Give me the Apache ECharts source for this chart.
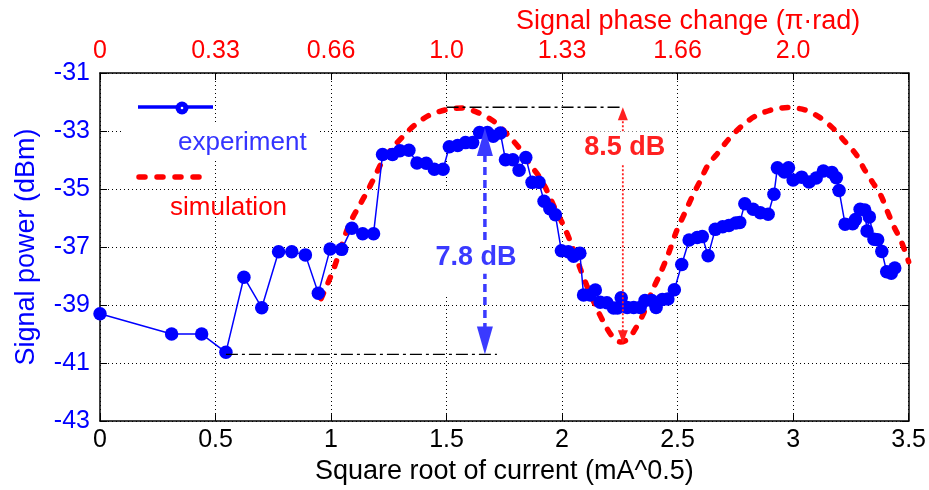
<!DOCTYPE html>
<html>
<head>
<meta charset="utf-8">
<script src="https://cdn.jsdelivr.net/npm/echarts@6/dist/echarts.min.js"></script>
<style>
html,body{margin:0;padding:0;background:#fff;}
#main{width:929px;height:490px;}
</style>
</head>
<body>
<div id="main"></div>
<script>
// ---- data ----
const expX = [0, 0.31, 0.44, 0.545, 0.623, 0.70, 0.773, 0.83, 0.889, 0.945, 0.996, 1.046, 1.09, 1.137, 1.184,
  1.223, 1.266, 1.298, 1.337, 1.372, 1.412, 1.447, 1.485, 1.512, 1.548, 1.582, 1.613, 1.643, 1.677, 1.702, 1.733,
  1.755, 1.787, 1.814, 1.843, 1.87, 1.9, 1.922, 1.947, 1.971, 1.997, 2.027, 2.05, 2.077, 2.093, 2.122, 2.144,
  2.165, 2.194, 2.223, 2.24, 2.256, 2.282, 2.31, 2.338, 2.359, 2.388, 2.407, 2.434, 2.458, 2.486, 2.518, 2.55,
  2.585, 2.607, 2.632, 2.663, 2.695, 2.722, 2.752, 2.769, 2.791, 2.827, 2.858, 2.892, 2.917, 2.932, 2.962, 2.98,
  3.0, 3.037, 3.069, 3.1, 3.131, 3.168, 3.187, 3.199, 3.225, 3.258, 3.27, 3.29, 3.31, 3.32, 3.33, 3.35, 3.366,
  3.384, 3.405, 3.425, 3.44];
const expY = [-39.3, -40.0, -40.0, -40.63, -38.04, -39.09, -37.16, -37.16, -37.27, -38.59, -37.07, -37.08, -36.35, -36.54, -36.54,
  -33.81, -33.81, -33.68, -33.66, -34.1, -34.11, -34.32, -34.32, -33.54, -33.5, -33.4, -33.4, -33.05, -33.05, -33.18, -33.07,
  -33.99, -33.99, -34.35, -33.91, -34.77, -34.77, -35.42, -35.68, -35.89, -37.13, -37.16, -37.32, -37.21, -38.65, -38.65, -38.48,
  -38.9, -38.92, -39.1, -39.1, -38.75, -39.08, -39.08, -39.08, -38.84, -38.84, -39.08, -38.81, -38.79, -38.47, -37.6, -36.76,
  -36.67, -36.64, -37.3, -36.39, -36.3, -36.26, -36.17, -36.15, -35.51, -35.7, -35.82, -35.87, -35.18, -34.27, -34.41, -34.27,
  -34.69, -34.59, -34.76, -34.62, -34.38, -34.43, -34.61, -35.05, -36.21, -36.2, -36.05, -35.7, -35.72, -36.45, -35.96, -36.73, -36.75,
  -37.15, -37.85, -37.9, -37.72];

const simX = [0.957, 0.985, 1.014, 1.043, 1.068, 1.09, 1.122, 1.154, 1.187, 1.223, 1.266, 1.312, 1.36, 1.424, 1.496,
  1.568, 1.64, 1.705, 1.77, 1.82, 1.856, 1.899, 1.928, 1.971, 2.007, 2.043, 2.079, 2.107, 2.144, 2.187, 2.22, 2.252,
  2.28, 2.309, 2.352, 2.388, 2.424, 2.46, 2.496, 2.532, 2.561, 2.597, 2.633, 2.669, 2.719, 2.776, 2.834, 2.906, 2.978,
  3.05, 3.115, 3.172, 3.223, 3.273, 3.309, 3.345, 3.381, 3.407, 3.438, 3.467, 3.5];
const simY = [-38.78, -38.27, -37.7, -37.01, -36.44, -36.04, -35.58, -35.12, -34.61, -34.04, -33.58, -33.18, -32.81, -32.46, -32.27,
  -32.21, -32.38, -32.67, -33.18, -33.64, -34.1, -34.55, -34.95, -35.7, -36.27, -36.95, -37.75, -38.33, -39.01, -39.7, -40.1, -40.27,
  -40.2, -39.93, -39.3, -38.55, -37.93, -37.24, -36.44, -35.81, -35.3, -34.73, -34.15, -33.81, -33.3, -32.84, -32.5, -32.27, -32.19,
  -32.27, -32.53, -32.9, -33.35, -33.81, -34.33, -34.78, -35.24, -35.75, -36.32, -36.78, -37.5];

const topTickLabels = ['0', '0.33', '0.66', '1.0', '1.33', '1.66', '2.0', ''];

// annotations (data units)
const lowerRef = [0.545, 1.718, -40.7];   // x0, x1, y
const upperRef = [1.5, 2.263, -32.18];    // x0, x1, y
const expArrow = [1.666, -32.9, -40.7];   // x, top tip, bottom tip
const simArrow = [2.263, -32.18, -40.32]; // x, top tip, bottom tip
const expGapLabel = '7.8 dB';
const simGapLabel = '8.5 dB';

const FONT = 'Liberation Sans, Arial, Helvetica, sans-serif';
const BLUE = '#0000ff';
const RED = '#ff0000';

const chart = echarts.init(document.getElementById('main'), null, {renderer: 'canvas'});

const gridDots = {show: true, lineStyle: {type: [1, 3], color: '#000', width: 1}};
const frameLine = {show: true, onZero: false, lineStyle: {color: '#000', width: 1.5}};

const option = {
  animation: false,
  backgroundColor: '#fff',
  textStyle: {fontFamily: FONT},
  title: {
    text: 'Signal phase change (π·rad)',
    left: 511, top: 3,
    textStyle: {color: RED, fontSize: 27, fontWeight: 'normal', fontFamily: FONT}
  },
  grid: {left: 100, right: 17, top: 73, bottom: 67, containLabel: false},
  xAxis: [{
    type: 'value', position: 'bottom', min: 0, max: 3.5, interval: 0.5,
    axisLine: frameLine,
    axisTick: {inside: true, length: 7, lineStyle: {color: '#000'}},
    axisLabel: {color: '#000', fontSize: 25, margin: 7, fontFamily: FONT},
    splitLine: gridDots,
    name: 'Square root of current (mA^0.5)', nameLocation: 'middle', nameGap: 30,
    nameTextStyle: {color: '#000', fontSize: 27, fontFamily: FONT}
  }, {
    type: 'value', position: 'top', min: 0, max: 3.5, interval: 0.5,
    axisLine: frameLine,
    axisTick: {inside: true, length: 7, lineStyle: {color: '#000'}},
    axisLabel: {color: RED, fontSize: 25, margin: 9, fontFamily: FONT,
      formatter: v => topTickLabels[Math.round(v / 0.5)] || ''},
    splitLine: {show: false}
  }],
  yAxis: [{
    type: 'value', position: 'left', min: -43, max: -31, interval: 2,
    axisLine: frameLine,
    axisTick: {inside: true, length: 7, lineStyle: {color: '#000'}},
    axisLabel: {color: BLUE, fontSize: 25, margin: 10, fontFamily: FONT},
    splitLine: gridDots,
    name: 'Signal power (dBm)', nameLocation: 'middle', nameGap: 60,
    nameTextStyle: {color: BLUE, fontSize: 27, fontFamily: FONT}
  }, {
    type: 'value', position: 'right', min: -43, max: -31, interval: 2,
    axisLine: frameLine,
    axisTick: {inside: true, length: 7, lineStyle: {color: '#000'}},
    axisLabel: {show: false},
    splitLine: {show: false}
  }],
  series: [{
    name: 'simulation', type: 'line', xAxisIndex: 0, yAxisIndex: 0,
    data: simX.map((x, i) => [x, simY[i]]),
    symbol: 'none', smooth: 0.3, z: 2,
    lineStyle: {color: RED, width: 5.5, type: [6, 11.5], cap: 'round'}
  }, {
    name: 'experiment', type: 'line', xAxisIndex: 0, yAxisIndex: 0,
    data: expX.map((x, i) => [x, expY[i]]),
    symbol: 'circle', symbolSize: 13.5, z: 3,
    itemStyle: {color: BLUE},
    lineStyle: {color: BLUE, width: 1.5}
  }]
};
chart.setOption(option);

const P = (x, y) => chart.convertToPixel({xAxisIndex: 0, yAxisIndex: 0}, [x, y]);

const g = [];
// legend (white box covering grid under 'experiment')
g.push({type: 'rect', z: 1, shape: {x: 123, y: 122, width: 197, height: 38}, style: {fill: '#fff'}});
g.push({type: 'line', z: 4, shape: {x1: 138, y1: 107, x2: 213, y2: 107}, style: {stroke: BLUE, lineWidth: 3.5}});
g.push({type: 'circle', z: 4, shape: {cx: 182, cy: 108, r: 6.5}, style: {fill: BLUE}});
g.push({type: 'circle', z: 5, shape: {cx: 182, cy: 108, r: 1.3}, style: {fill: '#fff'}});
g.push({type: 'text', z: 4, x: 178, y: 143, style: {text: 'experiment', fill: '#3434ff', fontSize: 26, fontFamily: FONT, align: 'left', verticalAlign: 'middle'}});
g.push({type: 'line', z: 4, shape: {x1: 139, y1: 177, x2: 209, y2: 177}, style: {stroke: RED, lineWidth: 5.5, lineDash: [6, 12], lineCap: 'round'}});
g.push({type: 'text', z: 4, x: 170, y: 208, style: {text: 'simulation', fill: RED, fontSize: 26, fontFamily: FONT, align: 'left', verticalAlign: 'middle'}});

// reference dash-dot lines
const l0 = P(lowerRef[0], lowerRef[2]), l1 = P(lowerRef[1], lowerRef[2]);
g.push({type: 'line', z: 4, shape: {x1: l0[0], y1: l0[1], x2: l1[0], y2: l1[1]}, style: {stroke: '#000', lineWidth: 1.4, lineDash: [12, 4, 3, 4]}});
const u0 = P(upperRef[0], upperRef[2]), u1 = P(upperRef[1], upperRef[2]);
g.push({type: 'line', z: 4, shape: {x1: u0[0], y1: u0[1], x2: u1[0], y2: u1[1]}, style: {stroke: '#000', lineWidth: 1.4, lineDash: [12, 4, 3, 4]}});

// blue double arrow (experiment contrast)
const bt = P(expArrow[0], expArrow[1]), bb = P(expArrow[0], expArrow[2]);
const BA = '#3a3aff';
g.push({type: 'rect', z: 1, shape: {x: bt[0] - 76, y: 192, width: 130, height: 103}, style: {fill: '#fff'}});
g.push({type: 'line', z: 5, shape: {x1: bt[0], y1: bt[1] + 26, x2: bb[0], y2: bb[1] - 26}, style: {stroke: BA, lineWidth: 3.5, lineDash: [8, 5]}});
g.push({type: 'polygon', z: 5, shape: {points: [[bt[0], bt[1]], [bt[0] - 8, bt[1] + 28], [bt[0] + 8, bt[1] + 28]]}, style: {fill: BA}});
g.push({type: 'polygon', z: 5, shape: {points: [[bb[0], bb[1]], [bb[0] - 8, bb[1] - 28], [bb[0] + 8, bb[1] - 28]]}, style: {fill: BA}});
g.push({type: 'text', z: 6, x: bt[0] - 9, y: (bt[1] + bb[1]) / 2 + 16, style: {text: expGapLabel, fill: BA, fontSize: 27, fontWeight: 'bold', fontFamily: FONT, align: 'center', verticalAlign: 'middle', backgroundColor: '#fff', padding: [3, 2]}});

// red double arrow (simulation contrast)
const rt = P(simArrow[0], simArrow[1]), rb = P(simArrow[0], simArrow[2]);
const RA = '#ff2020';
g.push({type: 'line', z: 5, shape: {x1: rt[0], y1: rt[1] + 10, x2: rb[0], y2: rb[1] - 10}, style: {stroke: RA, lineWidth: 1.8, lineDash: [2, 2]}});
g.push({type: 'polygon', z: 5, shape: {points: [[rt[0], rt[1]], [rt[0] - 5, rt[1] + 13], [rt[0] + 5, rt[1] + 13]]}, style: {fill: RA}});
g.push({type: 'polygon', z: 5, shape: {points: [[rb[0], rb[1]], [rb[0] - 5, rb[1] - 13], [rb[0] + 5, rb[1] - 13]]}, style: {fill: RA}});
g.push({type: 'text', z: 6, x: rt[0] + 2, y: 148, style: {text: simGapLabel, fill: RA, fontSize: 27, fontWeight: 'bold', fontFamily: FONT, align: 'center', verticalAlign: 'middle', backgroundColor: '#fff', padding: [3, 2]}});

chart.setOption({graphic: {elements: g}});
</script>
</body>
</html>
